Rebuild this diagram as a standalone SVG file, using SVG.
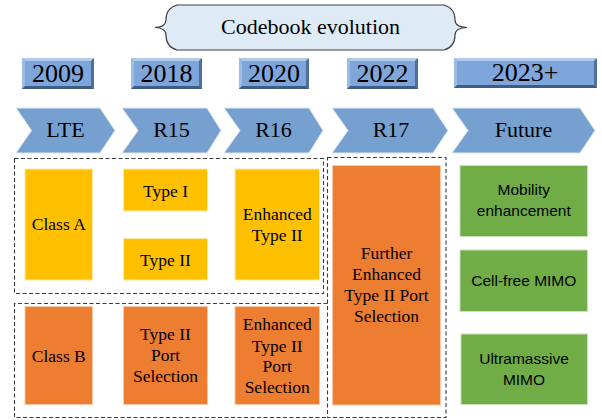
<svg xmlns="http://www.w3.org/2000/svg" width="602" height="420" viewBox="0 0 602 420">
<defs>
<style>
.chev{fill:#76A0D0;stroke:#DDE7F3;stroke-width:1}
.face{fill:#7EA6DA}
.bt1{fill:#B2CAEA}
.bl{fill:#9DBCE3}
.br{fill:#4F6F9B}
.bb{fill:#3F5C86}
.yel{fill:#FFC000;stroke:#FFE9A8;stroke-width:1}
.ora{fill:#ED7D31;stroke:#F8C9A8;stroke-width:1}
.grn{fill:#70AD47;stroke:#C9E2B8;stroke-width:1}
.dash{fill:none;stroke:#3A3A3A;stroke-width:1.1;stroke-dasharray:4 2.5}
</style>
</defs>

<g id="banner">
<path d="M177,5 H444 Q455,8 455,20 Q455,27 467,27.5 Q455,28 455,35 Q455,47 444,50 H177 Q166,47 166,35 Q166,28 155,27.5 Q166,27 166,20 Q166,8 177,5 Z" fill="#DEEBF7" stroke="#404040" stroke-width="1.2"/>
<text x="310.5" y="34" font-family="Times New Roman, Liberation Serif, serif" font-size="22" text-anchor="middle">Codebook evolution</text>
</g>

<g id="year-2009">
<rect class="face" x="22" y="58" width="72" height="31"/>
<polygon class="bt1" points="22,58 94,58 91,61 25,61"/>
<polygon class="bl" points="22,58 25,61 25,86 22,89"/>
<polygon class="br" points="94,58 94,89 91,86 91,61"/>
<polygon class="bb" points="22,89 94,89 91,86 25,86"/>
<text x="58" y="81.5" font-family="Times New Roman, Liberation Serif, serif" font-size="26" text-anchor="middle">2009</text>
</g>
<g id="year-2018">
<rect class="face" x="131" y="58" width="71" height="31"/>
<polygon class="bt1" points="131,58 202,58 199,61 134,61"/>
<polygon class="bl" points="131,58 134,61 134,86 131,89"/>
<polygon class="br" points="202,58 202,89 199,86 199,61"/>
<polygon class="bb" points="131,89 202,89 199,86 134,86"/>
<text x="166.5" y="81.5" font-family="Times New Roman, Liberation Serif, serif" font-size="26" text-anchor="middle">2018</text>
</g>
<g id="year-2020">
<rect class="face" x="239" y="58" width="70" height="31"/>
<polygon class="bt1" points="239,58 309,58 306,61 242,61"/>
<polygon class="bl" points="239,58 242,61 242,86 239,89"/>
<polygon class="br" points="309,58 309,89 306,86 306,61"/>
<polygon class="bb" points="239,89 309,89 306,86 242,86"/>
<text x="274" y="81.5" font-family="Times New Roman, Liberation Serif, serif" font-size="26" text-anchor="middle">2020</text>
</g>
<g id="year-2022">
<rect class="face" x="347" y="58" width="71" height="31"/>
<polygon class="bt1" points="347,58 418,58 415,61 350,61"/>
<polygon class="bl" points="347,58 350,61 350,86 347,89"/>
<polygon class="br" points="418,58 418,89 415,86 415,61"/>
<polygon class="bb" points="347,89 418,89 415,86 350,86"/>
<text x="382.5" y="81.5" font-family="Times New Roman, Liberation Serif, serif" font-size="26" text-anchor="middle">2022</text>
</g>
<g id="year-2023">
<rect class="face" x="454" y="58" width="143" height="30"/>
<polygon class="bt1" points="454,58 597,58 594,61 457,61"/>
<polygon class="bl" points="454,58 457,61 457,85 454,88"/>
<polygon class="br" points="597,58 597,88 594,85 594,61"/>
<polygon class="bb" points="454,88 597,88 594,85 457,85"/>
<text x="525" y="80.5" font-family="Times New Roman, Liberation Serif, serif" font-size="26" text-anchor="middle">2023+</text>
</g>

<g id="chev-lte">
<path class="chev" d="M16,108 H100 L115,130.5 L100,153 H16 L31.5,130.5 Z"/>
<text x="65.5" y="137" font-family="Times New Roman, Liberation Serif, serif" font-size="22" text-anchor="middle">LTE</text>
</g>
<g id="chev-r15">
<path class="chev" d="M122,108 H207 L221,130.5 L207,153 H122 L138,130.5 Z"/>
<text x="171.5" y="137" font-family="Times New Roman, Liberation Serif, serif" font-size="22" text-anchor="middle">R15</text>
</g>
<g id="chev-r16">
<path class="chev" d="M224,108 H309 L323,130.5 L309,153 H224 L240,130.5 Z"/>
<text x="273.5" y="137" font-family="Times New Roman, Liberation Serif, serif" font-size="22" text-anchor="middle">R16</text>
</g>
<g id="chev-r17">
<path class="chev" d="M332,108 H433 L448,130.5 L433,153 H332 L348,130.5 Z"/>
<text x="391" y="137" font-family="Times New Roman, Liberation Serif, serif" font-size="22" text-anchor="middle">R17</text>
</g>
<g id="chev-future">
<path class="chev" d="M452,108 H580 L595,130.5 L580,153 H452 L468,130.5 Z"/>
<text x="523.5" y="137" font-family="Times New Roman, Liberation Serif, serif" font-size="22" text-anchor="middle">Future</text>
</g>

<g id="group-class-a">
<rect class="dash" x="14.5" y="158.5" width="309" height="135"/>
</g>
<g id="group-class-b">
<path class="dash" d="M327.5,303.5 H14.5 V417.5 H327.5"/>
</g>
<g id="group-r17">
<rect class="dash" x="327.5" y="157.5" width="118.5" height="260"/>
</g>

<g id="class-a">
<rect class="yel" x="25" y="169" width="67.5" height="111"/>
<text x="58.8" y="230" font-family="Times New Roman, Liberation Serif, serif" font-size="17.5" text-anchor="middle">Class A</text>
</g>
<g id="type-1">
<rect class="yel" x="123.5" y="169" width="84" height="42"/>
<text x="165.5" y="196.5" font-family="Times New Roman, Liberation Serif, serif" font-size="17.5" text-anchor="middle">Type I</text>
</g>
<g id="type-2">
<rect class="yel" x="123.5" y="238.5" width="84" height="41.5"/>
<text x="165.5" y="265.5" font-family="Times New Roman, Liberation Serif, serif" font-size="17.5" text-anchor="middle">Type II</text>
</g>
<g id="enh-type-2">
<rect class="yel" x="235" y="169" width="84.5" height="111"/>
<text x="277.2" y="220" font-family="Times New Roman, Liberation Serif, serif" font-size="17.5" text-anchor="middle">Enhanced</text>
<text x="277.2" y="241" font-family="Times New Roman, Liberation Serif, serif" font-size="17.5" text-anchor="middle">Type II</text>
</g>

<g id="class-b">
<rect class="ora" x="25" y="306.5" width="67.5" height="98"/>
<text x="58.8" y="361.5" font-family="Times New Roman, Liberation Serif, serif" font-size="17.5" text-anchor="middle">Class B</text>
</g>
<g id="type-2-ps">
<rect class="ora" x="123.5" y="306.5" width="84" height="98"/>
<text x="165.5" y="340" font-family="Times New Roman, Liberation Serif, serif" font-size="17.5" text-anchor="middle">Type II</text>
<text x="165.5" y="361" font-family="Times New Roman, Liberation Serif, serif" font-size="17.5" text-anchor="middle">Port</text>
<text x="165.5" y="382" font-family="Times New Roman, Liberation Serif, serif" font-size="17.5" text-anchor="middle">Selection</text>
</g>
<g id="enh-type-2-ps">
<rect class="ora" x="235" y="306.5" width="84.5" height="98"/>
<text x="277.2" y="330" font-family="Times New Roman, Liberation Serif, serif" font-size="17.5" text-anchor="middle">Enhanced</text>
<text x="277.2" y="351.5" font-family="Times New Roman, Liberation Serif, serif" font-size="17.5" text-anchor="middle">Type II</text>
<text x="277.2" y="372" font-family="Times New Roman, Liberation Serif, serif" font-size="17.5" text-anchor="middle">Port</text>
<text x="277.2" y="393" font-family="Times New Roman, Liberation Serif, serif" font-size="17.5" text-anchor="middle">Selection</text>
</g>
<g id="fe-type-2-ps">
<rect class="ora" x="332.5" y="165.5" width="108" height="239.5"/>
<text x="386.5" y="258.5" font-family="Times New Roman, Liberation Serif, serif" font-size="17.5" text-anchor="middle">Further</text>
<text x="386.5" y="279.5" font-family="Times New Roman, Liberation Serif, serif" font-size="17.5" text-anchor="middle">Enhanced</text>
<text x="386.5" y="300.5" font-family="Times New Roman, Liberation Serif, serif" font-size="17.5" text-anchor="middle">Type II Port</text>
<text x="386.5" y="321.5" font-family="Times New Roman, Liberation Serif, serif" font-size="17.5" text-anchor="middle">Selection</text>
</g>

<g id="mobility">
<rect class="grn" x="460" y="165.5" width="127.5" height="71"/>
<text x="523.8" y="195" font-family="Liberation Sans, Arial, sans-serif" font-size="15.5" text-anchor="middle">Mobility</text>
<text x="523.8" y="216" font-family="Liberation Sans, Arial, sans-serif" font-size="15.5" text-anchor="middle">enhancement</text>
</g>
<g id="cell-free">
<rect class="grn" x="460" y="250" width="127.5" height="61.5"/>
<text x="523.8" y="286" font-family="Liberation Sans, Arial, sans-serif" font-size="15.5" text-anchor="middle">Cell-free MIMO</text>
</g>
<g id="ultramassive">
<rect class="grn" x="461" y="334" width="126.5" height="70.5"/>
<text x="524" y="363.5" font-family="Liberation Sans, Arial, sans-serif" font-size="15.5" text-anchor="middle">Ultramassive</text>
<text x="524" y="384.5" font-family="Liberation Sans, Arial, sans-serif" font-size="15.5" text-anchor="middle">MIMO</text>
</g>
</svg>
